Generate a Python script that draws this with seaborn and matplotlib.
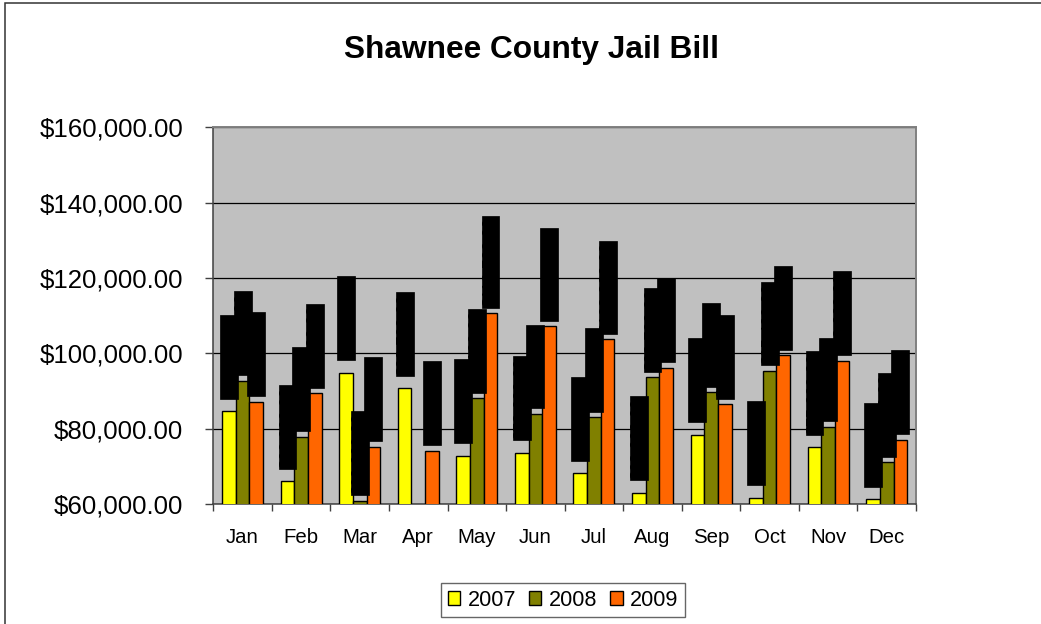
import numpy as np
import pandas as pd
import matplotlib
matplotlib.use("Agg")
import matplotlib.pyplot as plt
import matplotlib.patches as mpatches
import seaborn as sns

months = ["Jan", "Feb", "Mar", "Apr", "May", "Jun", "Jul", "Aug", "Sep", "Oct", "Nov", "Dec"]
years = ["2007", "2008", "2009"]
bill_2007 = [84700, 66000, 94900, 90700, 72800, 73600, 68200, 63000, 78400, 61700, 75000, 61200]
bill_2008 = [92700, 77900, 60900, np.nan, 88100, 83900, 83000, 93700, 89700, 95400, 80500, 71100]
bill_2009 = [87200, 89400, 75200, 74100, 110700, 107200, 103800, 96200, 86500, 99500, 98000, 77000]
colors = ["#FFFF00", "#808000", "#FF6600"]
yticks = [60000, 80000, 100000, 120000, 140000, 160000]

df = pd.DataFrame({
    "Month": months * 3,
    "Year": [y for y in years for _ in months],
    "Bill": bill_2007 + bill_2008 + bill_2009,
})

sns.set_style("white")
plt.rcParams["font.family"] = ["Liberation Sans", "DejaVu Sans"]
plt.rcParams["text.color"] = "black"
plt.rcParams["xtick.labelcolor"] = "black"
plt.rcParams["ytick.labelcolor"] = "black"

fig = plt.figure(figsize=(10.41, 6.24), dpi=100)
ax = fig.add_axes([213.3 / 1041, 1 - 504 / 624, (916 - 213.3) / 1041, (504 - 127.3) / 624])
ax.set_facecolor("#C0C0C0")

sns.barplot(data=df, x="Month", y="Bill", hue="Year", order=months, hue_order=years,
            palette=colors, saturation=1, width=0.7, edgecolor="black", linewidth=1.0,
            errorbar=None, legend=False, ax=ax, zorder=3)

ax.set_ylim(60000, 160000)
ax.set_xlim(-0.5, 11.5)
ax.set_yticks(yticks)
ax.set_yticklabels([f"${v:,.2f}" for v in yticks], fontsize=18.6, color="black")
for t in ax.get_xticklabels():
    t.set_color("black")
ax.yaxis.grid(True, color="black", linewidth=0.9, zorder=1)
ax.set_axisbelow(True)
ax.set_xlabel("")
ax.set_ylabel("")
ax.tick_params(axis="x", which="major", length=0, pad=17, labelsize=14.7, labelcolor="black")
ax.set_xticks(np.arange(-0.5, 12, 1), minor=True)
ax.tick_params(axis="x", which="minor", length=5, width=1.0, color="#404040", direction="out", bottom=True)
ax.tick_params(axis="y", length=5.8, width=1.0, color="#404040", direction="out", pad=15.8, left=True,
               labelcolor="black")

for side in ["left", "bottom"]:
    ax.spines[side].set_color("#404040")
    ax.spines[side].set_linewidth(1.1)
for side in ["top", "right"]:
    ax.spines[side].set_visible(True)
    ax.spines[side].set_color("#808080")
    ax.spines[side].set_linewidth(1.4)

pads = [9.9, 5.0, 5.0]
for cont, pad in zip(ax.containers, pads):
    labs = ["" if np.isnan(v) else f"${v:,.2f}" for v in cont.datavalues]
    anns = ax.bar_label(cont, labels=labs, padding=pad, rotation=90, fontsize=11.6, color="black",
                        bbox=dict(boxstyle="square,pad=0.09", fc="black", ec="black", lw=0.5))
    for a in anns:
        a.set_zorder(5)

fig.text(531 / 1041, 1 - 58 / 624, "Shawnee County Jail Bill", ha="center", va="baseline",
         fontsize=22.8, fontweight="bold", color="black")

handles = [c.patches[0] for c in ax.containers]
leg = fig.legend(handles, years, loc="center", bbox_to_anchor=(563 / 1041, 1 - 600 / 624),
                 ncol=3, fontsize=15.6, frameon=True, fancybox=False, edgecolor="#404040",
                 handlelength=0.585, handleheight=0.585, handletextpad=0.34, columnspacing=0.585,
                 borderpad=0.3)
leg.get_frame().set_linewidth(1.0)
for t in leg.get_texts():
    t.set_color("black")

border = mpatches.Rectangle((5.3 / 1041, -0.1), 1.2, 1.1 - 3 / 624, transform=fig.transFigure,
                            fill=False, edgecolor="#333333", linewidth=1.1, clip_on=False)
fig.patches.append(border)

fig.savefig("out.png", dpi=100)
